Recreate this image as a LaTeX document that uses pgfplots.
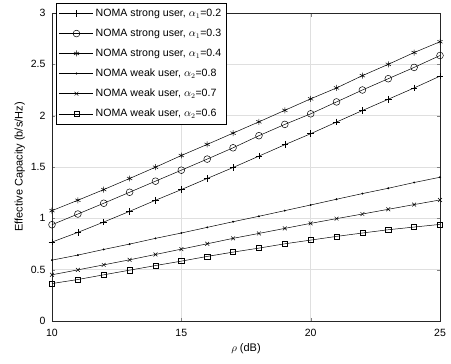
\documentclass[border=0pt]{standalone}
\usepackage{pgfplots}
\pgfplotsset{compat=1.18}
\usepackage{fontspec}
\setmainfont{Liberation Sans}
\begin{document}
\fontsize{10bp}{12bp}\selectfont
\begin{tikzpicture}
\useasboundingbox (-52bp,-43bp) rectangle (399bp,321bp);
\begin{axis}[
  at={(0,0)}, anchor=south west,
  scale only axis, width=388bp, height=308bp,
  xmin=10, xmax=25, ymin=0, ymax=3,
  xtick={10,15,20,25}, ytick={0,0.5,1,1.5,2,2.5,3},
  /pgf/number format/assume math mode=true,
  tick label style={font=\fontsize{10.5bp}{12bp}\selectfont},
  xticklabel style={yshift=-5bp},
  yticklabel style={xshift=-3bp},
  label style={font=\fontsize{11bp}{12bp}\selectfont},
  grid=major, grid style={gray!25, line width=0.5pt},
  tick align=inside, major tick length=3.5bp,
  axis line style={line width=0.5pt, black!85},
  xlabel={$\rho$ (dB)}, ylabel={Effective Capacity (b/s/Hz)},
  xlabel style={yshift=0bp}, ylabel style={yshift=-1bp},
  cycle list={{black,solid}},
  every axis plot/.append style={black, solid, line width=0.5pt},
  legend cell align=left,
  legend style={at={(axis description cs:0.0103,1.0325)}, anchor=north west,
    draw=black, line width=0.5pt, font=\fontsize{10.6bp}{12bp}\selectfont,
    row sep=7bp, inner xsep=3bp, inner ysep=4bp},
  legend image code/.code={\draw[mark repeat=2,mark phase=2] plot coordinates {(0bp,0bp)(17bp,0bp)(34bp,0bp)};},
]
\addplot[black, mark=+, mark size=3.3pt, mark options={solid}] coordinates {
(10,0.769)(11,0.863)(12,0.964)(13,1.068)(14,1.176)(15,1.280)(16,1.388)(17,1.495)(18,1.606)(19,1.717)(20,1.824)(21,1.938)(22,2.050)(23,2.160)(24,2.270)(25,2.385)};
\addlegendentry{NOMA strong user, $\alpha_1$=0.2}
\addplot[black, mark=o, mark size=3.4pt, mark options={solid}] coordinates {
(10,0.938)(11,1.042)(12,1.147)(13,1.254)(14,1.362)(15,1.469)(16,1.577)(17,1.687)(18,1.805)(19,1.915)(20,2.018)(21,2.134)(22,2.250)(23,2.360)(24,2.470)(25,2.586)};
\addlegendentry{NOMA strong user, $\alpha_1$=0.3}
\addplot[black, mark=asterisk, mark size=3pt, mark options={solid}] coordinates {
(10,1.075)(11,1.176)(12,1.280)(13,1.388)(14,1.498)(15,1.612)(16,1.720)(17,1.830)(18,1.940)(19,2.052)(20,2.164)(21,2.270)(22,2.390)(23,2.500)(24,2.615)(25,2.720)};
\addlegendentry{NOMA strong user, $\alpha_1$=0.4}
\addplot[black, mark=*, mark size=0.7pt, mark options={solid}] coordinates {
(10,0.593)(11,0.642)(12,0.697)(13,0.749)(14,0.805)(15,0.857)(16,0.912)(17,0.967)(18,1.020)(19,1.075)(20,1.130)(21,1.186)(22,1.241)(23,1.293)(24,1.349)(25,1.400)};
\addlegendentry{NOMA weak user, $\alpha_2$=0.8}
\addplot[black, mark=x, mark size=2.7pt, mark options={solid}] coordinates {
(10,0.450)(11,0.498)(12,0.547)(13,0.596)(14,0.648)(15,0.700)(16,0.752)(17,0.805)(18,0.853)(19,0.902)(20,0.951)(21,0.997)(22,1.042)(23,1.088)(24,1.134)(25,1.179)};
\addlegendentry{NOMA weak user, $\alpha_2$=0.7}
\addplot[black, mark=square, mark size=2.6pt, mark options={solid}] coordinates {
(10,0.365)(11,0.404)(12,0.450)(13,0.495)(14,0.540)(15,0.583)(16,0.629)(17,0.671)(18,0.710)(19,0.752)(20,0.788)(21,0.824)(22,0.857)(23,0.889)(24,0.915)(25,0.941)};
\addlegendentry{NOMA weak user, $\alpha_2$=0.6}
\end{axis}
\end{tikzpicture}
\end{document}
